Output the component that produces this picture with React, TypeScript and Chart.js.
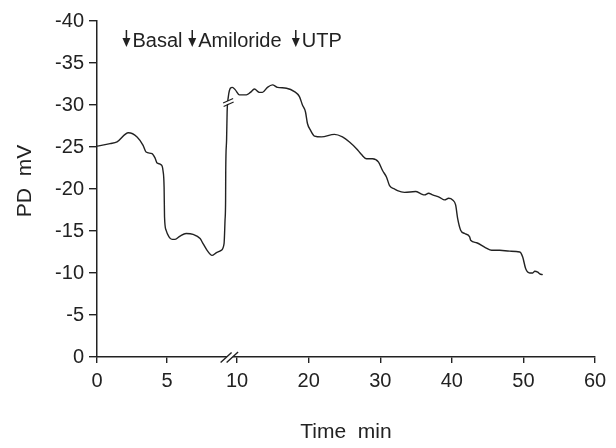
import { useEffect, useRef } from "react";
import { Chart, registerables } from "chart.js";

Chart.register(...registerables);

// ---- data (time in minutes, PD in mV) ----
const X_TICKS = [0, 5, 10, 20, 30, 40, 50, 60];
const Y_MIN = -40;
const Y_MAX = 0;
const Y_STEP = 5;

// before the axis break (0-10 min scale)
const earlyTime = [0, 0.93, 1.43, 2.24, 2.86, 3.29, 3.5, 3.93, 4.14, 4.29, 4.57, 4.71, 4.79, 4.82, 4.93, 5.14, 5.36, 5.57, 5.93, 6.36, 6.86, 7.36, 7.57, 7.86, 8.21, 8.5, 8.86, 9.07, 9.14, 9.18, 9.19, 9.25, 9.29];
const earlyPD = [-25.1, -25.4, -25.6, -26.7, -26.2, -25.2, -24.4, -24.2, -23.7, -23.1, -22.9, -22.2, -20.2, -16.7, -15.1, -14.3, -14.0, -14.0, -14.4, -14.7, -14.6, -14.1, -13.5, -12.7, -12.1, -12.4, -12.7, -13.5, -16.3, -18.7, -22.2, -25.8, -29.2];

// after the axis break (10-60 min scale)
const lateTime = [8.78, 9.06, 9.34, 9.76, 10.32, 11.3, 11.86, 12.42, 13.12, 13.54, 14.24, 14.94, 15.64, 16.9, 18.01, 18.71, 19.13, 19.55, 19.83, 20.25, 20.81, 21.79, 23.6, 24.72, 25.7, 26.68, 27.38, 28.08, 28.92, 29.76, 30.32, 30.88, 31.3, 32.0, 32.41, 33.39, 34.93, 35.77, 36.19, 36.75, 37.31, 38.29, 38.99, 39.55, 40.11, 40.53, 40.81, 41.23, 41.79, 42.49, 42.63, 43.47, 44.73, 45.57, 46.69, 48.09, 49.49, 49.9, 50.32, 50.88, 51.3, 51.58, 52.0, 52.28, 52.7];
const latePD = [-31.0, -32.0, -32.1, -31.8, -31.2, -31.2, -31.5, -31.9, -31.5, -31.5, -32.1, -32.4, -32.1, -32.0, -31.6, -31.0, -30.0, -29.2, -27.8, -27.0, -26.3, -26.2, -26.5, -26.2, -25.6, -24.8, -24.1, -23.6, -23.6, -23.2, -22.2, -21.4, -20.4, -20.0, -19.8, -19.6, -19.7, -19.4, -19.3, -19.5, -19.3, -19.0, -18.7, -18.9, -18.7, -18.1, -16.5, -15.1, -14.7, -14.3, -13.9, -13.6, -13.0, -12.7, -12.7, -12.6, -12.5, -11.9, -10.5, -10.0, -10.0, -10.2, -10.1, -9.9, -9.8];

const eventLabels = ["Basal", "Amiloride", "UTP"];
const eventTime = [2.1, 6.8, 18.2];
const eventLate = [false, false, true];

// ---- axis mapping (broken axis: 10-60 compressed) ----
const BREAK_AT = 10;
const LATE_FACTOR = 0.511;
const toU = (t: number, late: boolean) => (late ? BREAK_AT + (t - BREAK_AT) * LATE_FACTOR : t);
const tickU = (t: number) => toU(t, t > BREAK_AT);
const U_MAX = tickU(60);

const AXIS_BREAK_U = 9.43;
const CURVE_BREAK_U = 9.36;
const CURVE_BREAK_PD = -30.3;

const FONT = "'Liberation Sans', Arial, sans-serif";
const INK = "#222";

const decor = {
  id: "decor",
  afterDraw(chart: any) {
    const ctx = chart.ctx as CanvasRenderingContext2D;
    const xs = chart.scales.x;
    const ys = chart.scales.y;
    const area = chart.chartArea;
    ctx.save();
    ctx.strokeStyle = INK;
    ctx.fillStyle = INK;

    // axis break marks
    const bx = xs.getPixelForValue(AXIS_BREAK_U);
    const by = area.bottom;
    ctx.fillStyle = "#fff";
    ctx.beginPath();
    ctx.moveTo(bx - 8, by + 5);
    ctx.lineTo(bx - 2, by + 5);
    ctx.lineTo(bx + 9, by - 5);
    ctx.lineTo(bx + 3, by - 5);
    ctx.closePath();
    ctx.fill();
    ctx.lineWidth = 1.4;
    ctx.beginPath();
    ctx.moveTo(bx - 8.5, by + 5.5);
    ctx.lineTo(bx + 2.5, by - 4.5);
    ctx.moveTo(bx - 2.5, by + 5.5);
    ctx.lineTo(bx + 9, by - 5);
    ctx.stroke();

    // curve break marks
    const cx = xs.getPixelForValue(CURVE_BREAK_U);
    const cy = ys.getPixelForValue(CURVE_BREAK_PD);
    ctx.fillStyle = "#fff";
    ctx.beginPath();
    ctx.moveTo(cx - 5, cy + 0.5);
    ctx.lineTo(cx + 5, cy - 4);
    ctx.lineTo(cx + 5, cy - 1);
    ctx.lineTo(cx - 5, cy + 3.5);
    ctx.closePath();
    ctx.fill();
    ctx.lineWidth = 1.3;
    ctx.beginPath();
    ctx.moveTo(cx - 5, cy + 0.5);
    ctx.lineTo(cx + 5, cy - 4);
    ctx.moveTo(cx - 4.5, cy + 4);
    ctx.lineTo(cx + 5.5, cy - 0.5);
    ctx.stroke();

    // event arrows and labels
    ctx.fillStyle = INK;
    ctx.font = `20px ${FONT}`;
    ctx.textBaseline = "alphabetic";
    ctx.textAlign = "left";
    eventLabels.forEach((lab, i) => {
      const px = xs.getPixelForValue(toU(eventTime[i], eventLate[i]));
      ctx.lineWidth = 1.5;
      ctx.beginPath();
      ctx.moveTo(px, 30);
      ctx.lineTo(px, 40);
      ctx.stroke();
      ctx.beginPath();
      ctx.moveTo(px - 4, 38);
      ctx.lineTo(px + 4, 38);
      ctx.lineTo(px, 47);
      ctx.closePath();
      ctx.fill();
      ctx.fillText(lab, px + 6, 46.5);
    });

    // axis titles
    ctx.font = `21px ${FONT}`;
    ctx.textAlign = "center";
    ctx.fillText("Time  min", (area.left + area.right) / 2, 438);
    ctx.translate(25, 181);
    ctx.rotate(-Math.PI / 2);
    ctx.textBaseline = "middle";
    ctx.fillText("PD  mV", 0, 0);
    ctx.restore();
  },
};

export default function App() {
  const ref = useRef<HTMLCanvasElement | null>(null);
  useEffect(() => {
    if (!ref.current) return;
    const points = [
      ...earlyTime.map((t, i) => ({ x: toU(t, false), y: earlyPD[i] })),
      ...lateTime.map((t, i) => ({ x: toU(t, true), y: latePD[i] })),
    ];
    const chart = new Chart(ref.current, {
      type: "line",
      data: {
        datasets: [
          {
            data: points,
            borderColor: INK,
            borderWidth: 1.4,
            pointRadius: 0,
            fill: false,
            cubicInterpolationMode: "monotone",
          },
        ],
      },
      options: {
        responsive: false,
        animation: false,
        events: [],
        layout: { padding: { left: 0, right: 21, top: 21, bottom: 0 } },
        plugins: { legend: { display: false }, tooltip: { enabled: false }, title: { display: false } },
        scales: {
          x: {
            type: "linear",
            min: 0,
            max: U_MAX,
            afterBuildTicks: (scale: any) => {
              scale.ticks = X_TICKS.map((t) => ({ value: tickU(t) }));
            },
            afterFit: (scale: any) => {
              scale.height = 91;
            },
            ticks: {
              autoSkip: false,
              maxRotation: 0,
              padding: 6,
              color: INK,
              font: { family: FONT, size: 20 },
              callback: (_v: any, i: number) => String(X_TICKS[i]),
            },
            grid: { drawOnChartArea: false, drawTicks: true, tickLength: 6, color: INK, lineWidth: 1.4 },
            border: { display: true, color: INK, width: 1.5 },
          },
          y: {
            type: "linear",
            min: Y_MIN,
            max: Y_MAX,
            reverse: true,
            afterFit: (scale: any) => {
              scale.width = 97;
            },
            ticks: {
              stepSize: Y_STEP,
              padding: 5,
              color: INK,
              font: { family: FONT, size: 20 },
            },
            grid: { drawOnChartArea: false, drawTicks: true, tickLength: 8, color: INK, lineWidth: 1.4 },
            border: { display: true, color: INK, width: 1.5 },
          },
        },
      },
      plugins: [decor],
    });
    return () => chart.destroy();
  }, []);
  return (
    <div style={{ position: "fixed", left: 0, top: 0, width: 616, height: 448, background: "#fff" }}>
      <canvas ref={ref} width={616} height={448} />
    </div>
  );
}
